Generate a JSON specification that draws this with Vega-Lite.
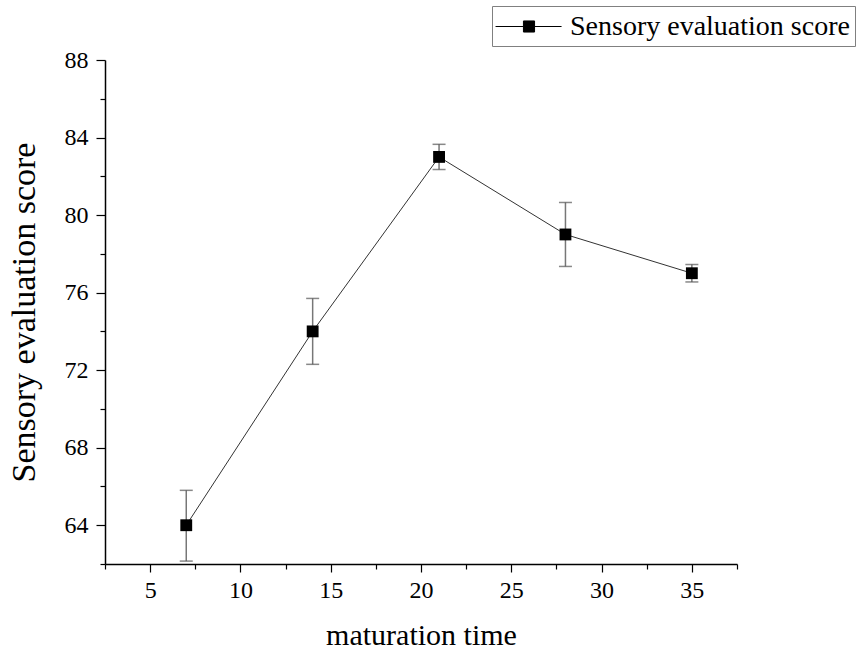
{
  "$schema": "https://vega.github.io/schema/vega-lite/v6.json",
  "width": 632,
  "height": 504,
  "autosize": "none",
  "padding": {"left": 105, "top": 60, "right": 123, "bottom": 89},
  "background": "white",
  "config": {
    "view": {"stroke": null},
    "font": "Liberation Serif",
    "axis": {
      "grid": false,
      "domainColor": "black",
      "domainWidth": 1.5,
      "tickColor": "black",
      "tickWidth": 1.2,
      "labelColor": "black",
      "titleColor": "black",
      "labelFont": "Liberation Serif",
      "titleFont": "Liberation Serif",
      "labelFontSize": 24,
      "titleFontSize": 30,
      "titleFontWeight": "normal",
      "labelOverlap": false
    }
  },
  "resolve": {"axis": {"y": "independent"}},
  "data": {
    "values": [
      {"time": 7, "score": 64, "lo": 62.15, "hi": 65.8},
      {"time": 14, "score": 74, "lo": 72.3, "hi": 75.7},
      {"time": 21, "score": 83, "lo": 82.35, "hi": 83.65},
      {"time": 28, "score": 79, "lo": 77.35, "hi": 80.65},
      {"time": 35, "score": 77, "lo": 76.55, "hi": 77.45}
    ]
  },
  "encoding": {
    "x": {
      "field": "time",
      "type": "quantitative",
      "scale": {"domain": [2.5, 37.5], "nice": false, "zero": false},
      "axis": {
        "title": "maturation time",
        "values": [2.5, 5, 7.5, 10, 12.5, 15, 17.5, 20, 22.5, 25, 27.5, 30, 32.5, 35, 37.5],
        "labelExpr": "datum.value % 5 === 0 ? datum.label : ''",
        "tickSize": {"condition": {"test": "datum.value % 5 === 0", "value": 8}, "value": 5},
        "labelPadding": 6,
        "titlePadding": 18
      }
    }
  },
  "layer": [
    {
      "mark": {"type": "rule", "color": "#777777", "strokeWidth": 1.5},
      "encoding": {
        "y": {
          "field": "lo",
          "type": "quantitative",
          "scale": {"domain": [62, 88], "nice": false, "zero": false},
          "axis": {
            "orient": "left",
            "title": "Sensory evaluation score",
            "values": [64, 68, 72, 76, 80, 84, 88],
            "tickSize": 9,
            "labelPadding": 8,
            "titlePadding": 23,
            "titleFontSize": 34
          }
        },
        "y2": {"field": "hi"}
      }
    },
    {
      "mark": {"type": "tick", "orient": "horizontal", "color": "#555555", "size": 13, "thickness": 1.5},
      "encoding": {
        "y": {
          "field": "lo",
          "type": "quantitative",
          "axis": {
            "orient": "left",
            "title": null,
            "values": [62, 66, 70, 74, 78, 82, 86],
            "tickSize": 5,
            "labels": false,
            "domain": false
          }
        }
      }
    },
    {
      "mark": {"type": "tick", "orient": "horizontal", "color": "#555555", "size": 13, "thickness": 1.5},
      "encoding": {"y": {"field": "hi", "type": "quantitative", "axis": null}}
    },
    {
      "mark": {"type": "line", "color": "#333333", "strokeWidth": 1},
      "encoding": {"y": {"field": "score", "type": "quantitative", "axis": null}}
    },
    {
      "mark": {"type": "point", "shape": "square", "filled": true, "size": 140, "opacity": 1},
      "encoding": {
        "y": {"field": "score", "type": "quantitative", "axis": null},
        "color": {
          "datum": "Sensory evaluation score",
          "scale": {"range": ["black"]},
          "legend": {
            "title": null,
            "orient": "none",
            "legendX": 387,
            "legendY": -54,
            "padding": 5,
            "strokeColor": "#808080",
            "fillColor": "white",
            "labelFont": "Liberation Serif",
            "labelFontSize": 28,
            "labelColor": "black",
            "labelOffset": 42,
            "labelLimit": 0,
            "symbolType": "M-1.13,0L0.73,0M1.47,0L3.27,0M0.73,-0.37L1.47,-0.37L1.47,0.37L0.73,0.37Z",
            "symbolSize": 900,
            "symbolStrokeColor": "black",
            "symbolStrokeWidth": 1,
            "symbolFillColor": "black"
          }
        }
      }
    }
  ]
}
